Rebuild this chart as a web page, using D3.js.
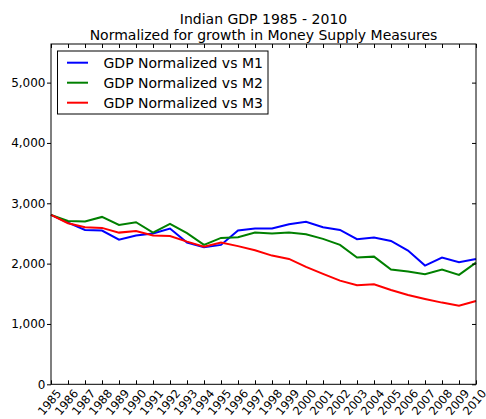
<!DOCTYPE html>
<html><head><meta charset="utf-8">
<script src="https://cdn.jsdelivr.net/npm/d3@7"></script>
<style>body{margin:0;background:#fff}svg{display:block}text{font-family:"DejaVu Sans",sans-serif;fill:#000}</style>
</head><body><svg id="c" width="486" height="419"></svg>
<script>
const years = d3.range(1985, 2011);
const m1 = [2808,2680,2559,2548,2398,2465,2498,2581,2349,2272,2310,2548,2581,2581,2653,2692,2604,2559,2404,2432,2376,2216,1967,2100,2023,2078];
const m2 = [2808,2708,2697,2774,2642,2686,2514,2658,2504,2310,2426,2438,2514,2498,2514,2487,2410,2310,2100,2116,1901,1868,1824,1901,1813,2017];
const m3 = [2808,2670,2604,2592,2514,2542,2465,2459,2365,2282,2348,2290,2222,2133,2078,1945,1829,1718,1642,1658,1564,1481,1415,1354,1304,1381];
const seriesNames = ["GDP Normalized vs M1","GDP Normalized vs M2","GDP Normalized vs M3"];
const seriesColors = ["#0000ff","#008000","#ff0000"];
const yTicks = [0,1000,2000,3000,4000,5000];
const yMax = 5640;
const titleLines = ["Indian GDP 1985 - 2010","Normalized for growth in Money Supply Measures"];

const svg = d3.select("#c");
const L=51, R=476, T=44, B=384.3;
const x = d3.scaleLinear().domain([1985,2010]).range([L,R]);
const y = d3.scaleLinear().domain([0,yMax]).range([B,T]);

// lines
const line = d3.line().x((d,i)=>x(years[i])).y(d=>y(d));
[m1,m2,m3].forEach((s,k)=>{
  svg.append("path").attr("d",line(s)).attr("fill","none").attr("stroke",seriesColors[k]).attr("stroke-width",2);
});

// axes
const fmt = d3.format(",");
const gl = svg.append("g").attr("transform",`translate(${L},0)`)
  .call(d3.axisLeft(y).tickValues(yTicks).tickSize(4).tickPadding(1.5).tickFormat(fmt));
gl.selectAll("text").attr("font-size",12).attr("font-family","DejaVu Sans");
const gr = svg.append("g").attr("transform",`translate(${R},0)`)
  .call(d3.axisLeft(y).tickValues(yTicks).tickSize(4).tickFormat(""));
const gb = svg.append("g").attr("transform",`translate(0,${B})`)
  .call(d3.axisTop(x).tickValues(years).tickSize(4).tickFormat(""));
const gt = svg.append("g").attr("transform",`translate(0,${T})`)
  .call(d3.axisBottom(x).tickValues(years).tickSize(4).tickFormat(""));
[gl,gr,gb,gt].forEach(g=>{g.select(".domain").remove(); g.selectAll("line").attr("stroke","#000");});

// frame
svg.append("rect").attr("x",L).attr("y",T).attr("width",R-L).attr("height",B-T).attr("fill","none").attr("stroke","#000").attr("stroke-width",1);

// x labels
svg.append("g").selectAll("text").data(years).join("text")
  .attr("transform",d=>`translate(${x(d)-1.5},${B+18}) rotate(-50)`)
  .attr("text-anchor","middle").attr("dy","0.35em").attr("font-size",11.5).text(d=>d);

// title
svg.append("g").selectAll("text").data(titleLines).join("text")
  .attr("x",(L+R)/2).attr("y",(d,i)=>24+i*15.5).attr("text-anchor","middle").attr("font-size",14).text(d=>d);

// legend
const lg = svg.append("g");
lg.append("rect").attr("x",57.5).attr("y",51).attr("width",210.5).attr("height",63).attr("fill","#fff").attr("stroke","#000");
seriesNames.forEach((n,k)=>{
  const yy = 62.7 + k*20;
  lg.append("line").attr("x1",67).attr("x2",88).attr("y1",yy).attr("y2",yy).attr("stroke",seriesColors[k]).attr("stroke-width",2);
  lg.append("text").attr("x",103.5).attr("y",yy).attr("dy","0.35em").attr("font-size",14).text(n);
});
</script></body></html>
